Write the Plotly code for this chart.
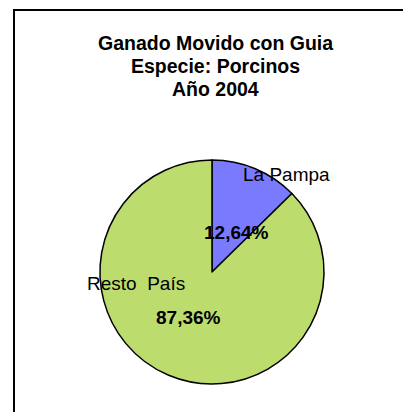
import plotly.graph_objects as go

categories = ["La Pampa", "Resto País"]
values = [12.64, 87.36]
label_texts = ["La Pampa", "Resto\u00a0\u00a0País"]
title_lines = ["Ganado Movido con Guia", "Especie: Porcinos", "Año 2004"]
colors = ["#7a7aff", "#bcdc6e"]

W, H = 403, 412

def px(x):
    return x / W

def py(y):
    return 1 - y / H

cx, cy, r = 212, 272, 112

fig = go.Figure()
fig.add_trace(go.Pie(
    labels=categories,
    values=values,
    sort=False,
    direction="clockwise",
    rotation=0,
    textinfo="none",
    hoverinfo="label+percent",
    marker=dict(colors=colors, line=dict(color="#000000", width=1.5)),
    domain=dict(x=[px(cx - r), px(cx + r)], y=[py(cy + r), py(cy - r)]),
    showlegend=False,
))

font_reg = dict(family="Liberation Sans, Arial, sans-serif", size=19, color="#000000")
font_title = dict(family="Liberation Sans, Arial, sans-serif", size=19.5, color="#000000")

name_pos = [(286, 175), (136, 283)]
pct_pos = [(236, 232), (188, 317)]
annotations = []
for i, v in enumerate(values):
    annotations.append(dict(x=px(name_pos[i][0]), y=py(name_pos[i][1]), xref="paper", yref="paper",
                            text=label_texts[i], showarrow=False, font=font_reg,
                            xanchor="center", yanchor="middle"))
    annotations.append(dict(x=px(pct_pos[i][0]), y=py(pct_pos[i][1]), xref="paper", yref="paper",
                            text="<b>" + f"{v:.2f}".replace(".", ",") + "%</b>", showarrow=False,
                            font=font_reg, xanchor="center", yanchor="middle"))

title_y = [43, 66, 89]
for t, yy in zip(title_lines, title_y):
    annotations.append(dict(x=px(215), y=py(yy), xref="paper", yref="paper",
                            text="<b>" + t + "</b>", showarrow=False, font=font_title,
                            xanchor="center", yanchor="middle"))

fig.update_layout(
    width=W, height=H,
    margin=dict(l=0, r=0, t=0, b=0),
    paper_bgcolor="#ffffff",
    plot_bgcolor="#ffffff",
    annotations=annotations,
    shapes=[dict(type="rect", xref="paper", yref="paper",
                 x0=px(14), y0=py(440), x1=px(440), y1=py(10),
                 line=dict(color="#000000", width=2), fillcolor="rgba(0,0,0,0)", layer="above")],
)

fig.write_html(
    "out.html",
    config={"displayModeBar": False},
    post_script="document.body.style.margin='0';document.body.style.overflow='hidden';",
)
